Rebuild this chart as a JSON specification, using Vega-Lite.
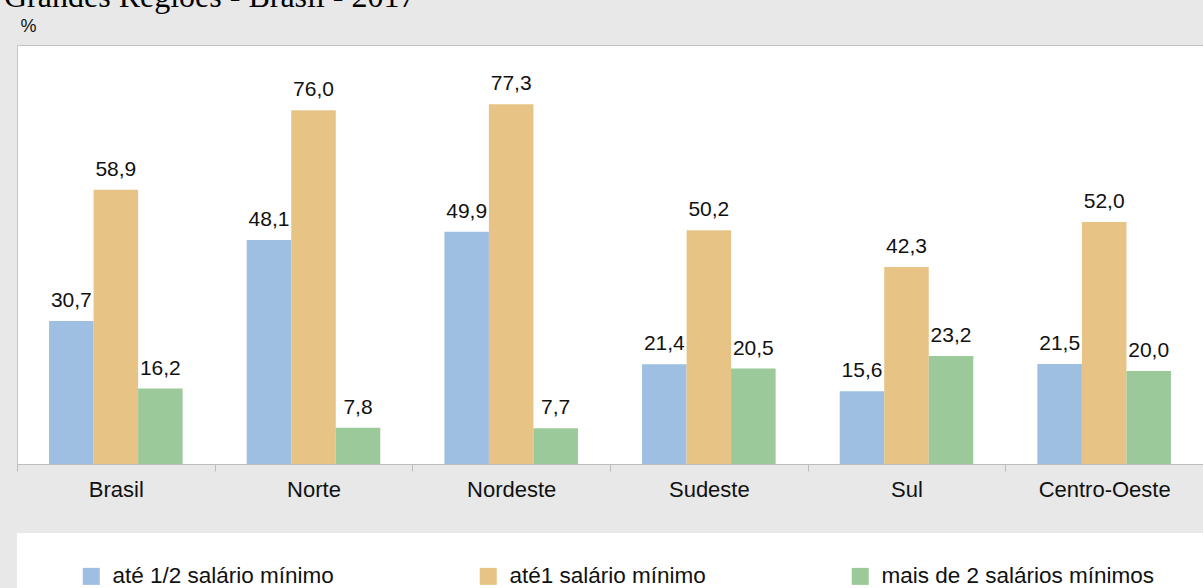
{
  "$schema": "https://vega.github.io/schema/vega-lite/v6.json",
  "background": "#e8e8e8",
  "autosize": {"type": "none"},
  "padding": {"left": 17, "top": 45, "right": 1186, "bottom": 543},
  "spacing": 0,
  "title": {
    "text": "Grandes Regiões - Brasil - 2017",
    "orient": "top", "anchor": "start", "frame": "bounds", "baseline": "alphabetic", "offset": -22, "dx": -12,
    "font": "Liberation Serif", "fontSize": 32, "fontWeight": "normal", "color": "#000"
  },
  "config": {
    "locale": {"number": {"decimal": ",", "thousands": ".", "grouping": [3], "currency": ["R$", ""]}},
    "font": "Liberation Sans",
    "view": {"stroke": null}
  },
  "datasets": {
    "bars": [
      {"regiao": "Brasil", "faixa": "até 1/2 salário mínimo", "valor": 30.7},
      {"regiao": "Brasil", "faixa": "até1 salário mínimo", "valor": 58.9},
      {"regiao": "Brasil", "faixa": "mais de 2 salários mínimos", "valor": 16.2},
      {"regiao": "Norte", "faixa": "até 1/2 salário mínimo", "valor": 48.1},
      {"regiao": "Norte", "faixa": "até1 salário mínimo", "valor": 76.0},
      {"regiao": "Norte", "faixa": "mais de 2 salários mínimos", "valor": 7.8},
      {"regiao": "Nordeste", "faixa": "até 1/2 salário mínimo", "valor": 49.9},
      {"regiao": "Nordeste", "faixa": "até1 salário mínimo", "valor": 77.3},
      {"regiao": "Nordeste", "faixa": "mais de 2 salários mínimos", "valor": 7.7},
      {"regiao": "Sudeste", "faixa": "até 1/2 salário mínimo", "valor": 21.4},
      {"regiao": "Sudeste", "faixa": "até1 salário mínimo", "valor": 50.2},
      {"regiao": "Sudeste", "faixa": "mais de 2 salários mínimos", "valor": 20.5},
      {"regiao": "Sul", "faixa": "até 1/2 salário mínimo", "valor": 15.6},
      {"regiao": "Sul", "faixa": "até1 salário mínimo", "valor": 42.3},
      {"regiao": "Sul", "faixa": "mais de 2 salários mínimos", "valor": 23.2},
      {"regiao": "Centro-Oeste", "faixa": "até 1/2 salário mínimo", "valor": 21.5},
      {"regiao": "Centro-Oeste", "faixa": "até1 salário mínimo", "valor": 52.0},
      {"regiao": "Centro-Oeste", "faixa": "mais de 2 salários mínimos", "valor": 20.0}
    ]
  },
  "vconcat": [
    {
      "width": 1186,
      "height": 419,
      "view": {"fill": "white", "stroke": "#c4c4c4", "strokeWidth": 1},
      "data": {"name": "bars"},
      "encoding": {
        "x": {
          "field": "regiao", "type": "nominal", "sort": null,
          "scale": {"paddingInner": 0, "paddingOuter": 0},
          "axis": {
            "title": null, "labelAngle": 0, "labelFontSize": 22, "labelColor": "#111",
            "labelPadding": 8, "tickBand": "extent", "tickSize": 7,
            "tickColor": "#bdbdbd", "domainColor": "#bdbdbd",
            "minExtent": 68, "maxExtent": 68
          }
        },
        "xOffset": {
          "field": "faixa", "type": "nominal", "sort": null,
          "scale": {"paddingInner": 0, "paddingOuter": 0.72}
        },
        "y": {
          "field": "valor", "type": "quantitative",
          "scale": {"domain": [0, 90], "nice": false},
          "axis": {
            "title": "%", "titleAngle": 0, "titleAlign": "left", "titleBaseline": "top",
            "titleX": 3, "titleY": -28, "titleFontSize": 18, "titleFontWeight": "normal",
            "titleColor": "#111", "labels": false, "ticks": false, "domain": false, "grid": false
          }
        }
      },
      "layer": [
        {
          "mark": {"type": "bar"},
          "encoding": {
            "color": {
              "field": "faixa", "type": "nominal",
              "scale": {
                "domain": ["até 1/2 salário mínimo", "até1 salário mínimo", "mais de 2 salários mínimos"],
                "range": ["#9ebee2", "#e7c386", "#9bc99a"]
              },
              "legend": {
                "orient": "none", "legendX": 63, "legendY": 520, "direction": "horizontal",
                "title": null, "symbolType": "square", "symbolSize": 289, "symbolStrokeWidth": 0,
                "labelFontSize": 22.5, "labelColor": "#111", "labelOffset": 10,
                "columnPadding": 143, "labelLimit": 500, "padding": 0
              }
            }
          }
        },
        {
          "mark": {"type": "text", "dy": -14, "baseline": "alphabetic", "fontSize": 21, "color": "#111"},
          "encoding": {"text": {"field": "valor", "type": "quantitative", "format": ".1f"}}
        }
      ]
    },
    {
      "width": 1186,
      "height": 56,
      "view": {"fill": "white", "stroke": null},
      "data": {"values": [{"k": 1}]},
      "mark": {"type": "rect", "opacity": 0},
      "encoding": {}
    }
  ]
}
